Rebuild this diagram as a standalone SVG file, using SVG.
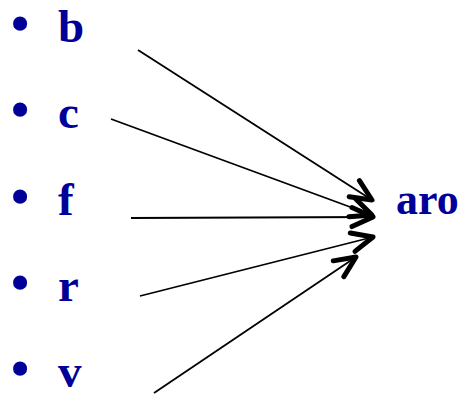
<svg xmlns="http://www.w3.org/2000/svg" width="466" height="396" viewBox="0 0 466 396">
<style>
.t{font-family:"Liberation Serif","Times New Roman",serif;font-weight:bold;fill:#000099}
.l{font-size:47px}
.bu{font-size:52px;text-anchor:middle}
.c{stroke:#000;stroke-width:1.8;fill:none}
</style>
<defs>
<marker id="ah" markerUnits="userSpaceOnUse" orient="auto" refX="0" refY="0" markerWidth="40" markerHeight="40" overflow="visible">
<path d="M-21,-9.5 L0,0 L-21,9.5" fill="none" stroke="#000" stroke-width="5" stroke-linecap="round" stroke-linejoin="round"/>
</marker>
</defs>
<rect width="466" height="396" fill="#fff"/>
<g id="b"><text class="t bu" x="20" y="41">•</text><text class="t l" x="58" y="42">b</text></g>
<g id="c"><text class="t bu" x="20" y="127">•</text><text class="t l" x="58" y="128">c</text></g>
<g id="f"><text class="t bu" x="20" y="214">•</text><text class="t l" x="58" y="215">f</text></g>
<g id="r"><text class="t bu" x="20" y="300">•</text><text class="t l" x="58" y="301">r</text></g>
<g id="v"><text class="t bu" x="20" y="386">•</text><text class="t l" x="58" y="387">v</text></g>
<g id="aro"><text class="t" x="396" y="214" font-size="44">aro</text></g>
<g id="connectors">
<line class="c" x1="138" y1="50" x2="372" y2="200" marker-end="url(#ah)"/>
<line class="c" x1="111" y1="119" x2="372" y2="215" marker-end="url(#ah)"/>
<line class="c" x1="131" y1="218" x2="373" y2="217" marker-end="url(#ah)"/>
<line class="c" x1="140" y1="296" x2="373" y2="237" marker-end="url(#ah)"/>
<line class="c" x1="154" y1="393" x2="356" y2="257" marker-end="url(#ah)"/>
</g>
</svg>
